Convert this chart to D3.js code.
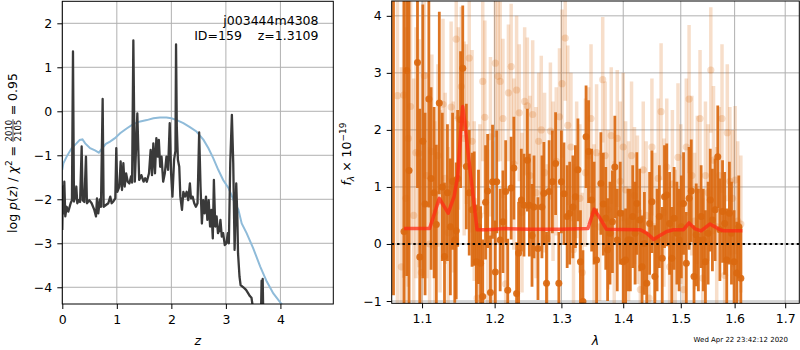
<!DOCTYPE html>
<html><head><meta charset="utf-8">
<script src="https://cdn.jsdelivr.net/npm/d3@7"></script>
<style>
body{margin:0;background:#fff}
svg{display:block;font-family:"DejaVu Sans",sans-serif}
</style>
</head><body>
<svg id="fig" width="800" height="350"></svg>
<script>
// ---- redshift probability, log p(z) ----
const pzZ = [
  0, 0.012, 0.024, 0.037, 0.055, 0.08, 0.11, 0.153, 0.177, 0.196,
  0.214, 0.239, 0.257, 0.275, 0.30, 0.326, 0.355, 0.373, 0.404, 0.434,
  0.452, 0.495, 0.538, 0.587, 0.618, 0.636, 0.66, 0.69, 0.709, 0.74,
  0.758, 0.80, 0.844, 0.88, 0.905, 0.936, 0.972, 0.99, 1.009, 1.046,
  1.07, 1.095, 1.12, 1.144, 1.17, 1.2, 1.23, 1.26, 1.28, 1.303,
  1.33, 1.376, 1.41, 1.45, 1.49, 1.52, 1.55, 1.59, 1.62, 1.645,
  1.67, 1.70, 1.725, 1.75, 1.77, 1.795, 1.82, 1.85, 1.88, 1.91,
  1.94, 1.97, 1.995, 2.02, 2.05, 2.075, 2.086, 2.10, 2.12, 2.145,
  2.165, 2.195, 2.22, 2.25, 2.28, 2.31, 2.34, 2.36, 2.39, 2.42,
  2.45, 2.48, 2.51, 2.535, 2.56, 2.585, 2.61, 2.635, 2.66, 2.685,
  2.71, 2.735, 2.76, 2.78, 2.805, 2.83, 2.855, 2.88, 2.9, 2.925,
  2.95, 2.98, 3.01, 3.035, 3.055, 3.08, 3.11, 3.135, 3.16, 3.175,
  3.19, 3.21, 3.223, 3.25, 3.27, 3.32, 3.37, 3.41, 3.44, 3.47,
  3.50, 3.55, 3.60, 3.64, 3.655, 3.665, 3.675, 3.685, 3.70, 3.75,
  3.85, 4.0
];
const pzLogp = [
  -2.7, -1.71, -2.32, -1.60, -2.39, -2.17, -2.28, -2.09, -2.02, 1.36,
  -2.05, -1.94, -1.71, -2.09, -2.02, -2.06, -0.80, -2.02, -2.06, -1.03,
  -2.09, -2.02, -2.09, -2.24, -2.39, -1.98, -2.32, -2.0, -2.17, 0.28,
  -2.17, -2.13, -2.09, -1.94, -2.09, -2.05, -1.98, -0.84, -1.83, -1.71,
  -1.14, -1.79, -1.18, -1.71, -1.41, -1.60, -1.64, -1.48, -1.62, 1.61,
  -1.60, -0.05, -1.56, -1.45, -1.60, -1.52, -1.60, -1.41, -0.88, -1.45,
  -0.73, -1.41, -0.61, -1.03, -0.65, -1.26, -1.03, -1.60, -1.41, -1.03,
  -1.33, -0.27, -1.41, -1.94, -1.10, -0.90, 1.52, -0.35, -1.10, -1.26,
  -1.94, -2.24, -1.83, -1.94, -1.83, -2.02, -1.64, -1.98, -1.94, -2.09,
  -2.17, -2.09, -0.48, -1.71, -2.55, -2.02, -2.32, -1.94, -2.47, -2.02,
  -2.62, -2.24, -2.89, -1.56, -2.62, -2.39, -2.77, -2.70, -2.47, -2.85,
  -2.77, -3.04, -3.0, -2.77, -3.0, -1.18, -0.08, -1.18, -3.15, -2.39,
  -1.64, -2.39, -3.23, -3.76, -3.95, -4.0, -4.06, -4.14, -4.2, -4.24,
  -4.5, -4.7, -4.8, -4.9, -3.85, -4.3, -3.81, -4.6, -4.9, -5.2,
  -5.6, -6.0
];
// smooth prior curve
const priorZ = [0, 0.02, 0.08, 0.17, 0.26, 0.32, 0.37, 0.42, 0.51, 0.60,
  0.67, 0.72, 0.80, 0.875, 0.966, 1.06, 1.18, 1.30, 1.43, 1.55,
  1.67, 1.79, 1.91, 2.0, 2.1, 2.22, 2.34, 2.46, 2.59, 2.68,
  2.77, 2.86, 2.95, 3.05, 3.14, 3.23, 3.29, 3.38, 3.50, 3.63,
  3.75, 3.87, 4.02, 4.1];
const priorLogp = [-1.33, -1.18, -1.03, -0.84, -0.73, -0.65, -0.64, -0.73, -0.84, -0.89,
  -0.94, -0.86, -0.74, -0.69, -0.61, -0.50, -0.39, -0.29, -0.23, -0.20,
  -0.16, -0.14, -0.14, -0.16, -0.20, -0.27, -0.36, -0.46, -0.65, -0.84,
  -1.07, -1.33, -1.56, -1.75, -2.02, -2.24, -2.55, -2.77, -3.11, -3.53,
  -3.87, -4.14, -4.38, -4.55];
const zTicks = [0, 1, 2, 3, 4];
const logpTicks = [-4, -3, -2, -1, 0, 1, 2];

// ---- spectrum: first grism set ----
const darkWave = [
  1.063, 1.0765, 1.080, 1.083, 1.094, 1.097, 1.101, 1.104, 1.109, 1.112,
  1.116, 1.119, 1.123, 1.127, 1.130, 1.134, 1.138, 1.141, 1.144, 1.146,
  1.148, 1.152, 1.155, 1.160, 1.164, 1.168, 1.171, 1.174, 1.177, 1.180,
  1.183, 1.187, 1.190, 1.194, 1.197, 1.201, 1.203, 1.208, 1.212, 1.216,
  1.219, 1.224, 1.228, 1.232, 1.235, 1.239, 1.243, 1.248, 1.251, 1.255,
  1.258, 1.264, 1.270, 1.273, 1.277, 1.281, 1.286, 1.291, 1.296, 1.300,
  1.304, 1.309, 1.313, 1.318, 1.322, 1.326, 1.330, 1.334, 1.339, 1.343,
  1.348, 1.352, 1.356, 1.363, 1.367, 1.371, 1.374, 1.378, 1.382, 1.386,
  1.390, 1.395, 1.400, 1.404, 1.408, 1.412, 1.416, 1.420, 1.423, 1.428,
  1.432, 1.436, 1.440, 1.445, 1.449, 1.454, 1.458, 1.462, 1.467, 1.471,
  1.475, 1.480, 1.484, 1.488, 1.493, 1.497, 1.501, 1.505, 1.510, 1.515,
  1.519, 1.524, 1.528, 1.532, 1.537, 1.541, 1.545, 1.550, 1.554, 1.558,
  1.563, 1.568, 1.572, 1.577, 1.581, 1.585, 1.590, 1.594, 1.599, 1.604,
  1.608, 1.612
];
const darkFlux = [
  4.5, 0.22, 3.04, 1.29, 3.18, -0.23, 1.8, 0.70, 2.54, 1.15,
  0.9, 0.34, 2.47, 1.0, -0.22, 0.9, 0.30, 1.1, 0.07, 0.23,
  1.15, 2.18, 3.08, 1.36, 0.9, 0.60, 0.62, -0.31, 0.3, -0.34,
  -0.92, 0.73, 0.93, -0.85, 1.09, -0.49, 1.09, 0.07, 0.39, 0.92,
  -0.81, 0.98, 1.33, -0.87, -0.16, 0.77, 0.68, 1.47, 0.68, 0.15,
  0.65, -0.08, 0.65, 0.89, -0.69, 0.92, 1.09, 1.41, -0.69, 1.09,
  0.88, 0.48, 0.54, 0.65, 0.83, 1.30, -0.31, -1.01, 1.88, 1.62,
  0.77, 0.54, -0.28, 1.06, 0.70, 0.45, -0.10, 0.19, 0.39, 1.35,
  0.07, 0.54, -0.31, -0.28, 0.07, 0.07, 0.48, 0.19, 0.71, 0.42,
  -0.40, 0.01, -0.69, 0.36, 0.74, -0.57, 0.07, 0.48, -0.25, 0.83,
  0.86, 0.36, -0.25, 0.45, 0.19, 0.07, 0.30, 0.71, -0.34, 0.80,
  0.93, -0.57, 0.16, 0.07, 0.48, 0.07, -0.31, 0.19, 0.77, 0.42,
  0.60, 1.53, 0.25, 0.57, 0.36, -0.28, 0.54, 0.19, -0.31, -0.51,
  0.30, -0.60
];
const darkErr = [
  5.4, 4.8, 3.6, 3.0, 2.2, 2.6, 2.4, 1.6, 1.9, 1.6,
  1.5, 1.4, 1.6, 1.3, 1.3, 1.2, 1.2, 1.2, 1.1, 1.2,
  1.2, 1.2, 1.1, 1.1, 1.1, 1.0, 1.0, 1.0, 1.0, 1.0,
  1.0, 1.0, 1.0, 1.0, 1.0, 0.9, 0.9, 0.9, 0.9, 0.9,
  0.9, 0.9, 0.9, 0.9, 0.9, 0.9, 0.9, 0.9, 0.9, 0.9,
  0.9, 0.9, 0.9, 0.9, 0.9, 0.9, 0.9, 0.9, 0.9, 0.9,
  0.9, 0.9, 0.9, 0.9, 0.9, 0.9, 0.9, 0.9, 0.9, 0.9,
  0.9, 0.9, 0.9, 0.9, 0.9, 0.9, 0.9, 0.9, 0.9, 0.9,
  0.9, 0.9, 0.9, 0.9, 0.9, 0.9, 0.9, 0.9, 0.9, 0.9,
  0.9, 0.9, 0.9, 0.9, 0.9, 0.9, 0.9, 0.9, 0.9, 0.9,
  0.9, 0.9, 0.9, 0.9, 0.9, 0.9, 0.9, 0.9, 0.9, 0.9,
  0.9, 0.9, 0.9, 0.9, 0.9, 0.9, 0.9, 0.9, 0.9, 0.9,
  0.9, 0.9, 0.9, 0.9, 0.9, 0.9, 0.9, 0.9, 0.9, 0.9,
  0.9, 0.9
];

// ---- spectrum: second grism set ----
const lightWave = [
  1.068, 1.073, 1.076, 1.079, 1.082, 1.085, 1.089, 1.092, 1.096, 1.099,
  1.103, 1.106, 1.110, 1.113, 1.117, 1.121, 1.124, 1.128, 1.131, 1.135,
  1.139, 1.142, 1.146, 1.149, 1.153, 1.157, 1.160, 1.164, 1.168, 1.171,
  1.175, 1.179, 1.183, 1.186, 1.190, 1.194, 1.197, 1.201, 1.205, 1.208,
  1.212, 1.216, 1.220, 1.224, 1.228, 1.232, 1.236, 1.240, 1.244, 1.248,
  1.252, 1.256, 1.261, 1.265, 1.269, 1.274, 1.278, 1.283, 1.287, 1.292,
  1.297, 1.301, 1.306, 1.310, 1.315, 1.319, 1.324, 1.329, 1.333, 1.338,
  1.343, 1.347, 1.352, 1.356, 1.361, 1.366, 1.370, 1.375, 1.380, 1.385,
  1.390, 1.395, 1.400, 1.404, 1.409, 1.414, 1.419, 1.424, 1.429, 1.434,
  1.439, 1.444, 1.449, 1.454, 1.460, 1.465, 1.470, 1.475, 1.480, 1.485,
  1.490, 1.495, 1.500, 1.505, 1.510, 1.515, 1.520, 1.525, 1.530, 1.535,
  1.540, 1.545, 1.550, 1.555, 1.560, 1.566, 1.571, 1.576, 1.581, 1.586,
  1.591, 1.596, 1.601, 1.606, 1.612
];
const lightFlux = [
  2.6, -0.4, 2.61, 0.8, 1.85, 2.41, 0.5, 1.6, 1.59, -0.5,
  2.95, 1.2, 0.0, 1.62, 0.55, 1.55, 0.75, 2.45, 1.15, 0.2,
  2.4, 1.0, 3.59, 2.2, 2.76, 1.85, 2.1, 3.26, 1.8, 0.75,
  -0.95, 0.5, 2.85, 2.22, 0.15, 1.88, 0.2, 3.17, 2.94, 2.85,
  2.2, -0.7, 2.65, 3.11, 1.4, 2.7, 2.3, 0.55, 2.5, 2.42,
  1.2, 2.27, 0.9, 1.8, 2.0, 1.25, 0.1, 1.98, 1.1, 1.45,
  2.23, 2.81, 3.61, 2.08, 1.7, -0.1, 1.3, 0.8, -0.5, 1.25,
  1.55, 2.2, 0.35, 1.6, 0.3, 2.88, 1.55, 0.6, 1.9, 0.15,
  1.85, 1.1, 1.7, 0.95, 0.4, 1.55, 0.85, 0.6, -0.8, 1.3,
  0.5, -0.95, 1.7, 0.3, 1.15, 2.32, 0.55, 1.35, -0.4, 1.05,
  0.1, 1.52, 0.7, -0.8, 1.7, 2.54, 1.2, 0.4, 0.95, 2.2,
  -0.6, 1.2, 0.9, 3.05, 1.47, 0.3, 1.2, 2.2, -0.55, 1.95,
  1.1, 0.8, 1.12, 0.4, 0.35
];
const lightErr = [
  4.0, 3.5, 3.2, 3.0, 2.6, 2.4, 2.4, 2.2, 2.0, 2.0,
  1.8, 1.8, 1.7, 1.7, 1.6, 1.6, 1.6, 1.5, 1.5, 1.5,
  1.5, 1.5, 1.4, 1.6, 1.4, 1.7, 1.4, 1.5, 1.6, 1.4,
  1.5, 1.6, 1.4, 1.7, 1.5, 1.4, 1.6, 1.3, 1.5, 1.4,
  1.4, 1.3, 1.2, 1.1, 1.5, 1.3, 1.2, 1.4, 1.3, 1.2,
  1.4, 1.3, 1.5, 1.2, 1.3, 1.4, 1.3, 1.2, 1.4, 1.3,
  1.2, 1.3, 1.1, 1.4, 1.3, 1.5, 1.2, 1.3, 1.4, 1.3,
  1.2, 1.3, 1.4, 1.2, 1.3, 1.1, 1.3, 1.4, 1.2, 1.3,
  1.2, 1.4, 1.3, 1.2, 1.4, 1.3, 1.2, 1.3, 1.4, 1.2,
  1.3, 1.4, 1.2, 1.3, 1.4, 1.2, 1.3, 1.2, 1.4, 1.3,
  1.2, 1.3, 1.4, 1.3, 1.2, 1.3, 1.4, 1.2, 1.3, 1.2,
  1.4, 1.3, 1.2, 1.1, 1.3, 1.4, 1.2, 1.3, 1.4, 1.2,
  1.3, 1.2, 1.3, 1.4, 1.2
];

// ---- best-fit model ----
const modelWave = [1.0765, 1.110, 1.123, 1.135, 1.143, 1.148, 1.153, 1.155, 1.158, 1.163,
  1.175, 1.189, 1.201, 1.215, 1.250, 1.300, 1.342, 1.352, 1.360, 1.372,
  1.429, 1.440, 1.452, 1.460, 1.475, 1.487, 1.505, 1.515, 1.525, 1.537,
  1.553, 1.563, 1.572, 1.580, 1.615];
const modelFlux = [0.27, 0.27, 0.80, 0.54, 0.83, 1.18, 2.12, 2.41, 2.12, 1.53,
  0.25, 0.25, 0.26, 0.27, 0.26, 0.26, 0.27, 0.61, 0.48, 0.26,
  0.25, 0.19, 0.08, 0.13, 0.22, 0.25, 0.25, 0.37, 0.27, 0.23,
  0.35, 0.30, 0.25, 0.23, 0.23];

const waveTicks = [1.1, 1.2, 1.3, 1.4, 1.5, 1.6, 1.7];
const fluxTicks = [-1, 0, 1, 2, 3, 4];

const svg = d3.select("#fig");
const FS = 12.5;
const gridColor = "#b0b0b0";

// ---------- scales ----------
const L = {x0: 62.3, x1: 333.3, y0: 1.3, y1: 304};
const R = {x0: 391.7, x1: 799.3, y0: 1, y1: 303.3};
const xL = d3.scaleLinear().domain([0, 4.97]).range([L.x0, L.x1]);
const yL = d3.scaleLinear().domain([-4.38, 2.5]).range([L.y1, L.y0]);
const xR = d3.scaleLog().domain([1.0607, 1.729]).range([R.x0, R.x1]);
const yR = d3.scaleLinear().domain([-1.04, 4.26]).range([R.y1, R.y0]);

const defs = svg.append("defs");
defs.append("clipPath").attr("id", "clipL").append("rect")
  .attr("x", L.x0).attr("y", L.y0).attr("width", L.x1 - L.x0).attr("height", L.y1 - L.y0);
defs.append("clipPath").attr("id", "clipR").append("rect")
  .attr("x", R.x0).attr("y", R.y0).attr("width", R.x1 - R.x0).attr("height", R.y1 - R.y0);

function grid(g, xs, ys, xt, yt, box) {
  g.selectAll(".gx").data(xt).join("line").attr("class", "gx")
    .attr("x1", d => xs(d)).attr("x2", d => xs(d))
    .attr("y1", box.y0).attr("y2", box.y1)
    .attr("stroke", gridColor).attr("stroke-width", 1);
  g.selectAll(".gy").data(yt).join("line").attr("class", "gy")
    .attr("x1", box.x0).attr("x2", box.x1)
    .attr("y1", d => ys(d)).attr("y2", d => ys(d))
    .attr("stroke", gridColor).attr("stroke-width", 1);
}
function styleAxis(g) {
  g.select(".domain").remove();
  g.selectAll(".tick line").attr("stroke", "#000").attr("stroke-width", 1);
  g.selectAll(".tick text").attr("font-size", FS).attr("fill", "#000")
    .attr("font-family", "DejaVu Sans, sans-serif");
}

// ---------- left panel: p(z) ----------
const gL = svg.append("g");
grid(gL.append("g"), xL, yL, zTicks, logpTicks, L);
const plotL = gL.append("g").attr("clip-path", "url(#clipL)");
plotL.append("path")
  .datum(priorZ.map((z, i) => [z, priorLogp[i]]))
  .attr("fill", "none").attr("stroke", "#8fbbd9").attr("stroke-width", 2)
  .attr("d", d3.line().x(d => xL(d[0])).y(d => yL(d[1])));
plotL.append("path")
  .datum(pzZ.map((z, i) => [z, pzLogp[i]]))
  .attr("fill", "none").attr("stroke", "#3a3a3a").attr("stroke-width", 2.3)
  .attr("stroke-linejoin", "round")
  .attr("d", d3.line().x(d => xL(d[0])).y(d => yL(d[1])));

gL.append("g").attr("transform", `translate(0,${L.y1})`)
  .call(d3.axisBottom(xL).tickValues(zTicks).tickSize(5).tickPadding(6).tickFormat(d3.format("d")))
  .call(styleAxis);
gL.append("g").attr("transform", `translate(${L.x0},0)`)
  .call(d3.axisLeft(yL).tickValues(logpTicks).tickSize(5).tickPadding(5).tickFormat(d3.format("d")))
  .call(styleAxis);
gL.append("rect").attr("x", L.x0).attr("y", L.y0).attr("width", L.x1 - L.x0).attr("height", L.y1 - L.y0)
  .attr("fill", "none").attr("stroke", "#000").attr("stroke-width", 1);

gL.append("text").attr("x", 318.5).attr("y", 24.5).attr("text-anchor", "end")
  .attr("font-size", FS).text("j003444m4308");
gL.append("text").attr("x", 318.5).attr("y", 39.5).attr("text-anchor", "end")
  .attr("font-size", FS).attr("xml:space", "preserve").text("ID=159    z=1.3109");

gL.append("text").attr("x", (L.x0 + L.x1) / 2).attr("y", 345)
  .attr("text-anchor", "middle").attr("font-size", FS).attr("font-style", "italic").text("z");

// rotated y label built from pieces
function buildLabel(g, pieces) {
  let x = 0;
  pieces.forEach(p => {
    if (p.frac) {
      const fs = 8.5;
      const t1 = g.append("text").attr("font-size", fs).attr("y", -5.2).text(p.frac[0]);
      const t2 = g.append("text").attr("font-size", fs).attr("y", 4.3).text(p.frac[1]);
      const w = Math.max(t1.node().getComputedTextLength(), t2.node().getComputedTextLength()) + 1;
      t1.attr("x", x + w / 2).attr("text-anchor", "middle");
      t2.attr("x", x + w / 2).attr("text-anchor", "middle");
      g.append("line").attr("x1", x).attr("x2", x + w).attr("y1", -4.0).attr("y2", -4.0)
        .attr("stroke", "#000").attr("stroke-width", 0.7);
      x += w;
    } else {
      const t = g.append("text").attr("x", x).attr("y", p.dy || 0)
        .attr("font-size", p.fs || FS).attr("xml:space", "preserve").text(p.t);
      if (p.it) t.attr("font-style", "italic");
      x += t.node().getComputedTextLength();
    }
  });
  return x;
}
const ylabL = svg.append("g");
const inner = ylabL.append("g");
const wL = buildLabel(inner, [
  {t: "log "}, {t: "p", it: true}, {t: "("}, {t: "z", it: true}, {t: ") / "},
  {t: "χ", it: true}, {t: "2", fs: 9, dy: -5}, {t: " = "},
  {frac: ["2010", "2105"]}, {t: " = 0.95"}
]);
inner.attr("transform", `translate(${-wL / 2},0)`);
ylabL.attr("transform", "translate(17,153) rotate(-90)");

// ---------- right panel: spectrum ----------
const gR = svg.append("g");
grid(gR.append("g"), xR, yR, waveTicks, fluxTicks, R);
const plotR = gR.append("g").attr("clip-path", "url(#clipR)");
const orange = "#da680f";

function drawErrorbars(g, w, f, e, barWidth, radius, alpha) {
  const data = w.map((x, i) => ({x, f: f[i], e: e[i]}));
  const gg = g.append("g");
  gg.selectAll("line").data(data).join("line")
    .attr("x1", d => xR(d.x)).attr("x2", d => xR(d.x))
    .attr("y1", d => yR(d.f - d.e)).attr("y2", d => yR(d.f + d.e))
    .attr("stroke", orange).attr("stroke-opacity", alpha).attr("stroke-width", barWidth);
  gg.selectAll("circle").data(data).join("circle")
    .attr("cx", d => xR(d.x)).attr("cy", d => yR(d.f)).attr("r", radius)
    .attr("fill", orange).attr("fill-opacity", alpha);
}
drawErrorbars(plotR, lightWave, lightFlux, lightErr, 3.5, 3.6, 0.22);
drawErrorbars(plotR, darkWave, darkFlux, darkErr, 2.8, 3.5, 0.92);

plotR.append("path")
  .datum(modelWave.map((x, i) => [x, modelFlux[i]]))
  .attr("fill", "none").attr("stroke", "#ff2a14").attr("stroke-opacity", 0.75)
  .attr("stroke-width", 3.5).attr("stroke-linejoin", "round")
  .attr("d", d3.line().x(d => xR(d[0])).y(d => yR(d[1])));
plotR.append("line").attr("x1", R.x0).attr("x2", R.x1).attr("y1", yR(0)).attr("y2", yR(0))
  .attr("stroke", "#000").attr("stroke-width", 2).attr("stroke-dasharray", "2.4,3");

gR.append("g").attr("transform", `translate(0,${R.y1})`)
  .call(d3.axisBottom(xR).tickValues(waveTicks).tickSize(5).tickPadding(6).tickFormat(d3.format(".1f")))
  .call(styleAxis);
gR.append("g").attr("transform", `translate(${R.x0},0)`)
  .call(d3.axisLeft(yR).tickValues(fluxTicks).tickSize(5).tickPadding(5).tickFormat(d3.format("d")))
  .call(styleAxis);
gR.append("rect").attr("x", R.x0).attr("y", R.y0).attr("width", R.x1 - R.x0).attr("height", R.y1 - R.y0)
  .attr("fill", "none").attr("stroke", "#000").attr("stroke-width", 1);

gR.append("text").attr("x", (R.x0 + R.x1) / 2).attr("y", 345)
  .attr("text-anchor", "middle").attr("font-size", FS).attr("font-style", "italic").text("λ");

const ylabR = svg.append("g");
const innerR = ylabR.append("g");
const wR = buildLabel(innerR, [
  {t: "f", it: true}, {t: "λ", it: true, fs: 9, dy: 3}, {t: " × 10"}, {t: "−19", fs: 9, dy: -5}
]);
innerR.attr("transform", `translate(${-wR / 2},0)`);
ylabR.attr("transform", "translate(351,154) rotate(-90)");

svg.append("text").attr("x", 788).attr("y", 342).attr("text-anchor", "end")
  .attr("font-size", 7).text("Wed Apr 22 23:42:12 2020");
</script>
</body></html>
